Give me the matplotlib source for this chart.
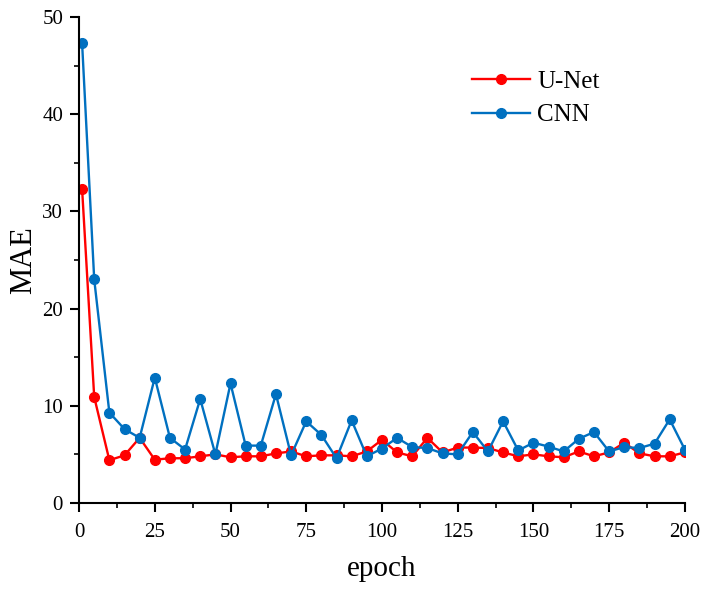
import matplotlib
matplotlib.use("Agg")
import matplotlib.pyplot as plt
from matplotlib.ticker import MultipleLocator

plt.rcParams['font.family'] = ['Liberation Serif', 'DejaVu Serif']

epochs = [1] + list(range(5, 201, 5))
unet = [32.3, 10.9, 4.4, 4.9, 6.7, 4.45, 4.6, 4.6, 4.8, 5.0, 4.7, 4.8, 4.8, 5.1, 5.3,
        4.8, 4.9, 4.9, 4.8, 5.3, 6.5, 5.2, 4.8, 6.7, 5.2, 5.7, 5.7, 5.65, 5.2, 4.8,
        5.0, 4.8, 4.7, 5.3, 4.8, 5.2, 6.2, 5.1, 4.8, 4.8, 5.2]
cnn = [47.3, 23.0, 9.3, 7.6, 6.7, 12.9, 6.7, 5.5, 10.7, 5.0, 12.3, 5.9, 5.9, 11.2, 4.9,
       8.4, 7.0, 4.6, 8.5, 4.8, 5.6, 6.7, 5.75, 5.65, 5.1, 5.0, 7.3, 5.3, 8.4, 5.4,
       6.2, 5.8, 5.3, 6.6, 7.3, 5.3, 5.75, 5.65, 6.1, 8.6, 5.5]
xticks = [0, 25, 50, 75, 100, 125, 150, 175, 200]
yticks = [0, 10, 20, 30, 40, 50]

fig = plt.figure(figsize=(7.06, 5.91), dpi=100)
ax = fig.add_axes([0.112, 0.149, 0.858, 0.822])

ax.plot(epochs, unet, color='#FF0000', marker='o', markersize=7, linewidth=1.7, label='U-Net')
ax.plot(epochs, cnn, color='#0070C0', marker='o', markersize=7, linewidth=1.7, label='CNN')

ax.set_xlim(0, 200)
ax.set_ylim(0, 50)
ax.set_xticks(xticks)
ax.set_yticks(yticks)
ax.xaxis.set_minor_locator(MultipleLocator(12.5))
ax.yaxis.set_minor_locator(MultipleLocator(5))
ax.tick_params(which='major', direction='out', length=6.5, width=1.5, labelsize=15, pad=5)
ax.tick_params(axis='x', which='major', pad=8)
ax.tick_params(which='minor', direction='out', length=3.5, width=1.2)
for s in ['top', 'right']:
    ax.spines[s].set_visible(False)
for s in ['left', 'bottom']:
    ax.spines[s].set_linewidth(1.5)

ax.set_xlabel('epoch', fontsize=21, labelpad=10)
ax.set_ylabel('MAE', fontsize=22, labelpad=3)

ax.legend(loc='upper left', bbox_to_anchor=(472 / 706, 1 - 70 / 591),
          bbox_transform=fig.transFigure, frameon=False, fontsize=18,
          borderpad=0, borderaxespad=0,
          handlelength=2.3, handletextpad=0.3, labelspacing=0.45)

fig.savefig('out.png', dpi=100)
